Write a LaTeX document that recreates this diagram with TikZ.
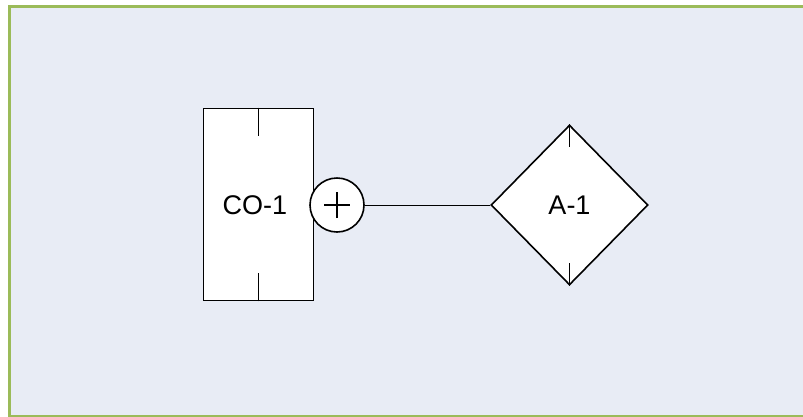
\documentclass[tikz,border=0pt]{standalone}
\usepackage{fontspec}
\setmainfont{Liberation Sans}
\usetikzlibrary{shapes.geometric}
\definecolor{framegreen}{HTML}{9BBB59}
\definecolor{panel}{HTML}{E8ECF5}
\tikzset{
  shape line/.style={draw=black, line width=1.6pt, fill=white},
  tick/.style={draw=black, line width=1.6pt},
  link/.style={draw=black, line width=0.9pt},
  lbl/.style={font=\fontsize{27}{30}\selectfont, inner sep=0pt}
}
\begin{document}
\begin{tikzpicture}[x=1pt,y=-1pt]
\useasboundingbox (0,0) rectangle (803,416);
\fill[white] (0,0) rectangle (803,416);
\draw[framegreen, line width=2.4pt, fill=panel] (9.5,6.5) rectangle (806,416.5);
% entity box
\node[shape line, rectangle, minimum width=110pt, minimum height=192pt, inner sep=0pt] (co) at (258.5,204.5) {};
\node[lbl] (colbl) at (255,205) {CO-1};
\draw[tick] (co.north) -- ++(0,28);
\draw[tick] (co.south) -- ++(0,-28);
% circle with plus
\node[shape line, circle, minimum size=54pt, inner sep=0pt] (pl) at (337,205) {};
\draw[link, line width=1.3pt] ([xshift=-13pt]pl.center) -- ([xshift=13pt]pl.center);
\draw[link, line width=1.3pt] ([yshift=-13pt]pl.center) -- ([yshift=13pt]pl.center);
% diamond
\node[shape line, diamond, minimum width=157pt, minimum height=160pt, inner sep=0pt] (a1) at (569.5,205) {};
\node[lbl] (albl) at (569.5,205.5) {A-1};
\draw[tick] (a1.north) -- ++(0,23);
\draw[tick] (a1.south) -- ++(0,-23);
% connector
\draw[link] (pl.east) -- (a1.west);
\end{tikzpicture}
\end{document}
